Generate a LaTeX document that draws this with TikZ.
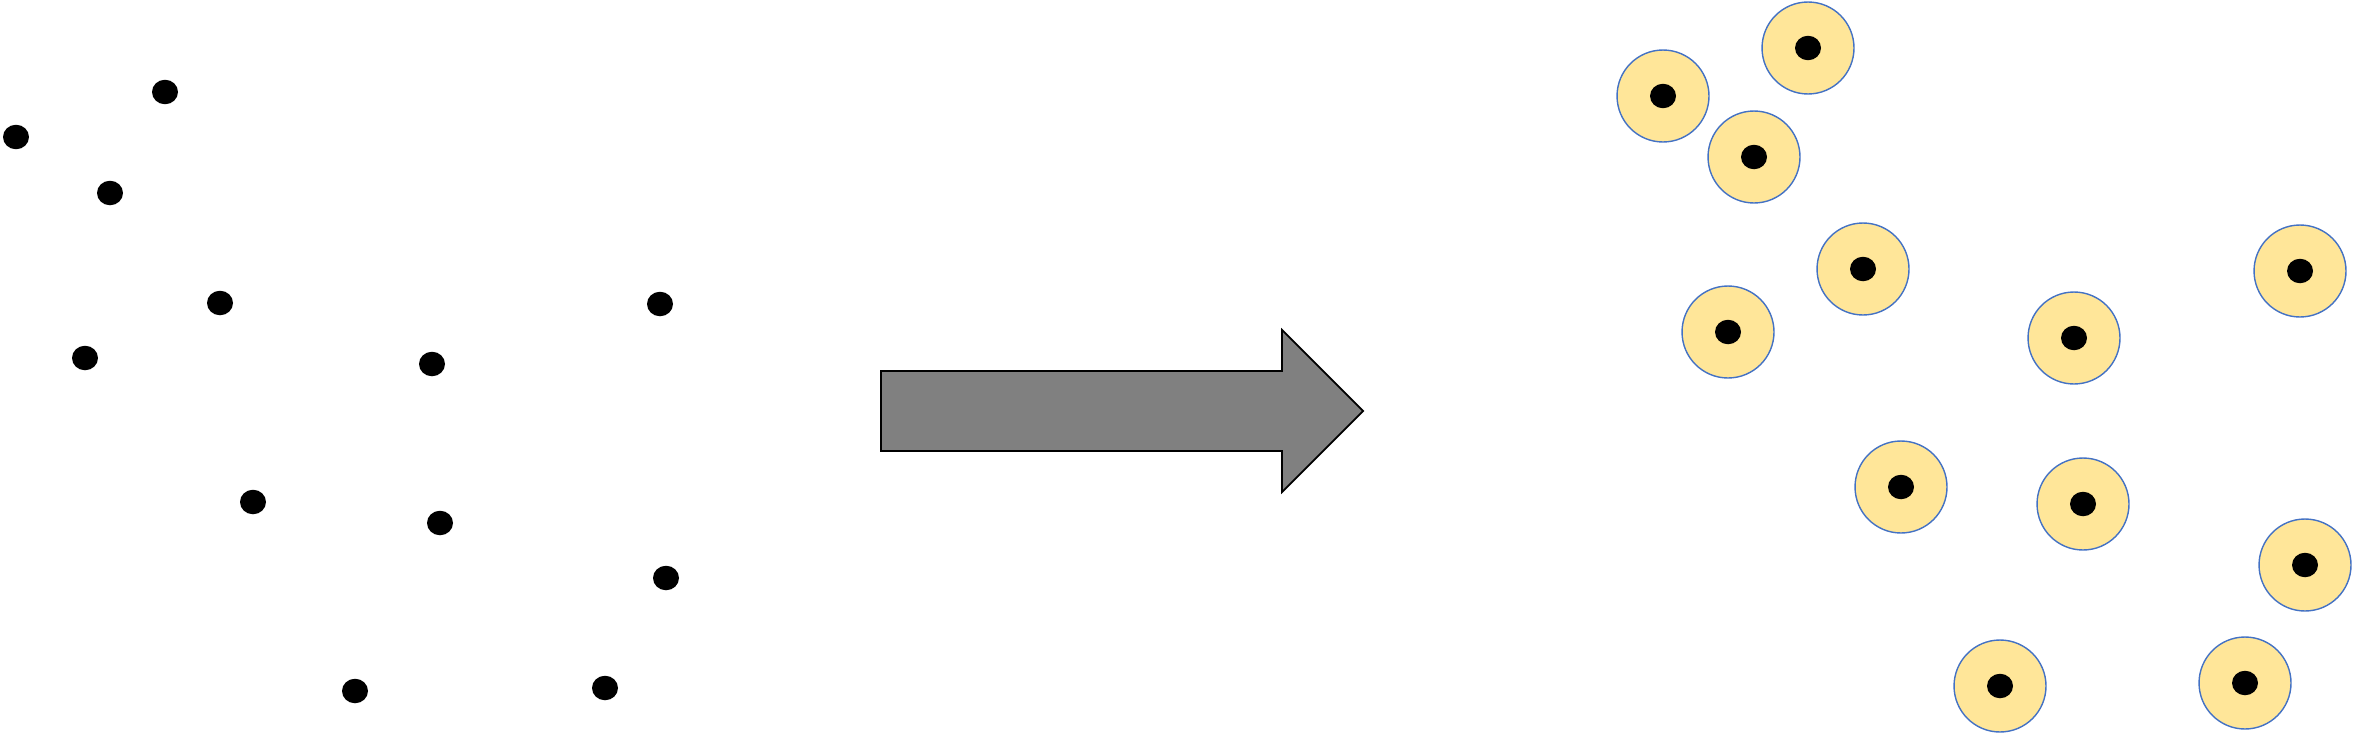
\documentclass[tikz,border=0pt]{standalone}
\usepackage{tikz}
\usetikzlibrary{shapes.geometric}
\definecolor{cellfill}{HTML}{FFE699}
\definecolor{cellline}{HTML}{4472C4}
\tikzset{
  dot/.style={ellipse, fill=black, inner sep=0pt, minimum width=0.52cm, minimum height=0.49cm},
  cell/.style={circle, draw=cellline, fill=cellfill, line width=0.8pt, inner sep=0pt, minimum size=1.84cm},
  bigarrow/.style={fill=gray, draw=black, line width=1pt, line join=miter}
}

\begin{document}
\begin{tikzpicture}[x=0.02cm, y=-0.02cm]
  \useasboundingbox (0,0) rectangle (2355,737);
  % bare particles (left)
  \foreach \px/\py [count=\i] in {165/92, 16/137, 110/193, 220/303, 85/358, 660/304,
      432/364, 253/502, 440/523, 666/578, 355/691, 605/688}
    \node[dot] (d\i) at (\px,\py) {};
  % transformation
  \draw[bigarrow] (881,371) -- (1282,371) -- (1282,330) -- (1363,411)
    -- (1282,492) -- (1282,451) -- (881,451) -- cycle;
  % coated particles (right)
  \foreach \px/\py [count=\i] in {1663/96, 1808/48, 1754/157, 1863/269, 1728/332, 2074/338,
      2300/271, 1901/487, 2083/504, 2305/565, 2000/686, 2245/683}
  {
    \node[cell] (c\i) at (\px,\py) {};
    \node[dot] (k\i) at (c\i.center) {};
  }
\end{tikzpicture}
\end{document}
